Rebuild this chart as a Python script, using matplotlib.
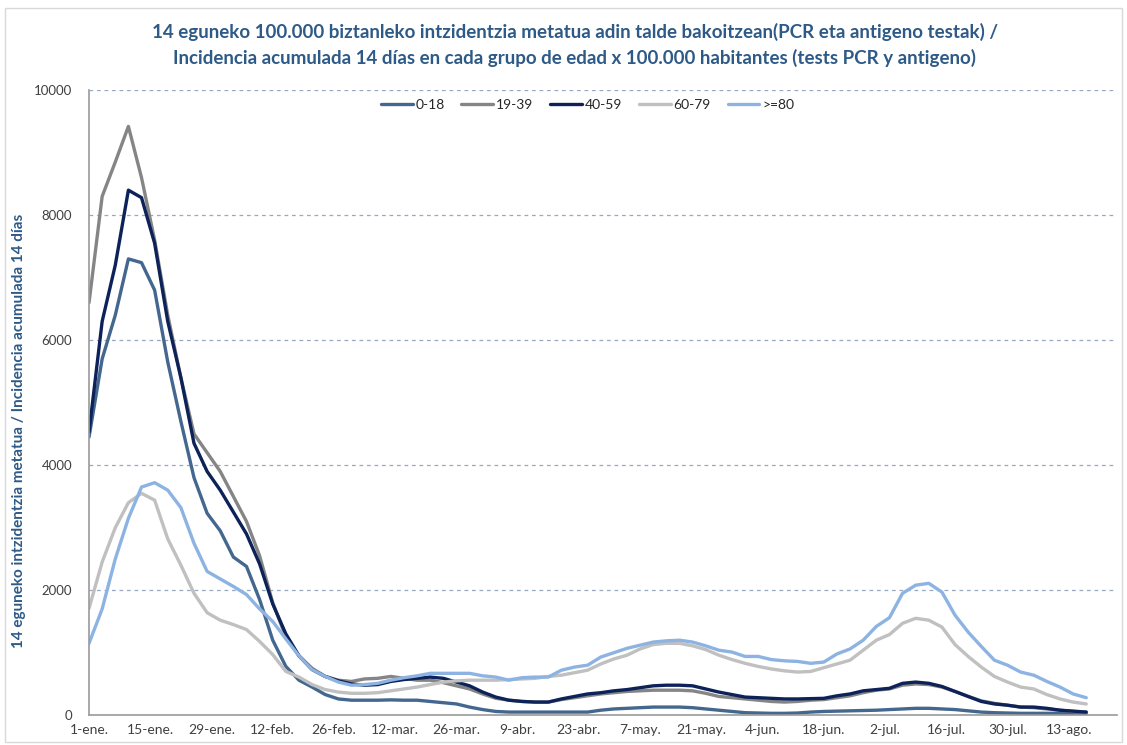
import pandas as pd
import matplotlib.pyplot as plt
from matplotlib.patches import Rectangle

# Data, one value every 3 days from 1-ene
s018 = [4450, 5700, 6400, 7300, 7240, 6800, 5650, 4700, 3800, 3230, 2950, 2530, 2380, 1850, 1200,
        780, 560, 450, 330, 260, 240, 240, 240, 245, 240, 240, 220, 200, 180, 130,
        90, 60, 50, 50, 50, 50, 50, 50, 50, 80, 100, 110, 120, 130, 130,
        130, 120, 100, 80, 60, 40, 35, 30, 30, 35, 50, 60, 65, 70, 75,
        80, 90, 100, 110, 110, 100, 90, 70, 50, 40, 35, 30, 30, 30, 30, 30, 30]
s1939 = [6600, 8300, 8850, 9420, 8600, 7600, 6400, 5400, 4500, 4200, 3900, 3500, 3100, 2550, 1800,
         1250, 950, 750, 620, 560, 540, 580, 590, 620, 590, 560, 560, 520, 470, 420,
         340, 270, 240, 220, 210, 210, 250, 280, 310, 340, 360, 380, 390, 400, 400,
         400, 390, 350, 300, 280, 260, 240, 220, 210, 220, 240, 250, 280, 310, 360,
         400, 420, 480, 500, 490, 450, 380, 300, 230, 190, 160, 130, 120, 100, 80, 60, 50]
s4059 = [4530, 6300, 7200, 8400, 8280, 7550, 6300, 5400, 4350, 3900, 3600, 3250, 2900, 2420, 1780,
         1300, 950, 730, 620, 550, 500, 480, 490, 540, 570, 590, 610, 590, 530, 470,
         370, 290, 240, 220, 210, 210, 260, 300, 340, 360, 390, 410, 440, 470, 480,
         480, 470, 420, 370, 330, 290, 280, 270, 260, 260, 265, 270, 310, 340, 390,
         410, 430, 510, 530, 510, 460, 380, 300, 220, 180, 160, 130, 130, 110, 80, 65, 50]
s6079 = [1710, 2450, 3000, 3400, 3550, 3440, 2820, 2400, 1950, 1640, 1520, 1450, 1370, 1180, 970,
         700, 610, 490, 410, 370, 350, 350, 360, 390, 420, 450, 490, 530, 550, 560,
         560, 560, 570, 580, 590, 620, 640, 680, 720, 820, 900, 960, 1060, 1130, 1150,
         1150, 1110, 1050, 960, 890, 830, 780, 740, 710, 690, 700, 760, 820, 880, 1040,
         1200, 1290, 1470, 1550, 1520, 1410, 1130, 940, 770, 620, 530, 450, 420, 330, 260, 210, 180]
s80 = [1150, 1700, 2500, 3150, 3650, 3720, 3600, 3320, 2750, 2300, 2180, 2060, 1930, 1700, 1500,
       1220, 950, 730, 620, 530, 480, 490, 510, 560, 600, 630, 670, 670, 670, 670,
       630, 610, 560, 600, 610, 610, 720, 770, 800, 930, 1000, 1070, 1120, 1170, 1190,
       1200, 1170, 1110, 1040, 1010, 940, 940, 890, 870, 860, 830, 850, 980, 1060, 1200,
       1420, 1560, 1950, 2080, 2110, 1970, 1600, 1330, 1100, 880, 800, 690, 640, 540, 450, 340, 280]

series_names = ['0-18', '19-39', '40-59', '60-79', '>=80']
series_colors = ['#44678f', '#858585', '#0c2258', '#c0c0c0', '#8db3e2']

tick_labels = ['1-ene.', '15-ene.', '29-ene.', '12-feb.', '26-feb.', '12-mar.', '26-mar.', '9-abr.',
               '23-abr.', '7-may.', '21-may.', '4-jun.', '18-jun.', '2-jul.', '16-jul.', '30-jul.', '13-ago.']

title = ('14 eguneko 100.000 biztanleko intzidentzia metatua adin talde bakoitzean(PCR eta antigeno testak) /\n'
         'Incidencia acumulada 14 días en cada grupo de edad x 100.000 habitantes (tests PCR y antigeno)')
ylabel = '14 eguneko intzidentzia metatua / Incidencia acumulada 14 días'


def main():
    plt.rcParams['font.family'] = ['Lato', 'DejaVu Sans']

    dates = pd.date_range('2022-01-01', periods=len(s018), freq='3D')
    tick_dates = pd.date_range('2022-01-01', periods=len(tick_labels), freq='14D')

    fig = plt.figure(figsize=(11.27, 7.45), dpi=100)
    fig.patches.append(Rectangle((0.004, 0.004), 0.992, 0.985, transform=fig.transFigure,
                                 fill=False, edgecolor='#d9d9d9', linewidth=1))
    ax = fig.add_axes([0.079, 0.040, 0.912, 0.839])

    for vals, name, col in zip([s018, s1939, s4059, s6079, s80], series_names, series_colors):
        ax.plot(dates, vals, color=col, linewidth=2.4, label=name, solid_capstyle='round')

    ax.set_ylim(0, 10000)
    ax.set_yticks(range(0, 10001, 2000))
    ax.set_xlim(pd.Timestamp('2022-01-01'), pd.Timestamp('2022-08-24'))
    ax.set_xticks(tick_dates)
    ax.set_xticklabels(tick_labels)
    ax.tick_params(axis='both', length=0, labelsize=10, colors='#404040', pad=6)
    ax.tick_params(axis='y', labelsize=9.5, pad=12)

    ax.grid(axis='y', linestyle=(0, (3, 3)), color='#95a9c2', linewidth=0.9)
    ax.set_axisbelow(True)
    for side in ['top', 'right']:
        ax.spines[side].set_visible(False)
    ax.spines['left'].set_color('#9a9a9a')
    ax.spines['bottom'].set_color('#9a9a9a')
    ax.spines['left'].set_linewidth(1.2)
    ax.spines['bottom'].set_linewidth(1.2)

    ax.set_ylabel(ylabel, fontsize=11, fontweight='bold', color='#2e5a87')
    ax.yaxis.set_label_coords(-0.061, 0.455)
    fig.text(0.51, 0.94, title, ha='center', va='center', fontsize=13.5, fontweight='bold',
             color='#2e5a87', linespacing=1.5)

    ax.legend(loc='upper center', bbox_to_anchor=(0.485, 1.006), ncol=5, frameon=False,
              fontsize=10, handlelength=2.3, handletextpad=0.2, columnspacing=1.2,
              labelcolor='#262626')

    fig.savefig('out.png', dpi=100, facecolor='white')


if __name__ == '__main__':
    main()
